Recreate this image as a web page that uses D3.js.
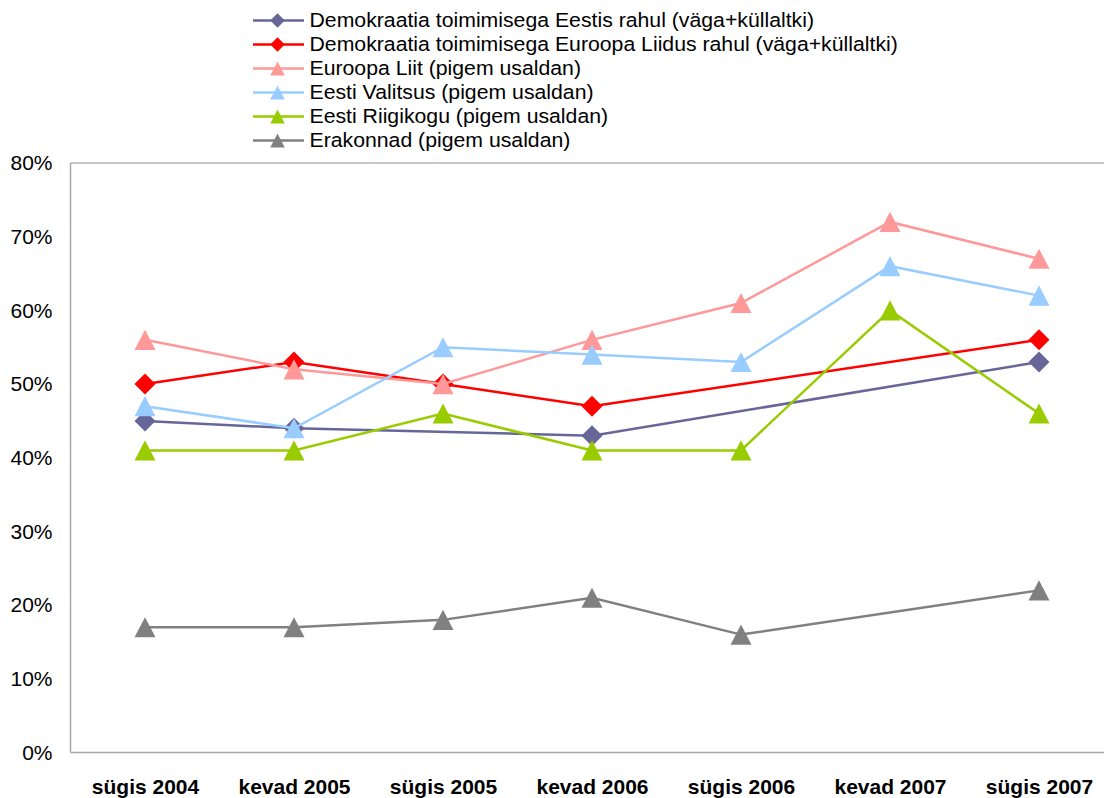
<!DOCTYPE html>
<html><head><meta charset="utf-8">
<script src="https://cdn.jsdelivr.net/npm/d3@7"></script>
<style>body{margin:0;background:#fff}svg{display:block}</style>
</head><body>
<svg id="c" width="1104" height="798"></svg>
<script>
const categories = ["sügis 2004","kevad 2005","sügis 2005","kevad 2006","sügis 2006","kevad 2007","sügis 2007"];
const yTicks = [0,10,20,30,40,50,60,70,80];
const seriesNames = [
  "Demokraatia toimimisega Eestis rahul (väga+küllaltki)",
  "Demokraatia toimimisega Euroopa Liidus rahul (väga+küllaltki)",
  "Euroopa Liit (pigem usaldan)",
  "Eesti Valitsus (pigem usaldan)",
  "Eesti Riigikogu (pigem usaldan)",
  "Erakonnad (pigem usaldan)"
];
const demEesti   = [45, 44, null, 43, null, null, 53];
const demEL      = [50, 53, 50, 47, null, null, 56];
const euroopaLiit= [56, 52, 50, 56, 61, 72, 67];
const valitsus   = [47, 44, 55, 54, 53, 66, 62];
const riigikogu  = [41, 41, 46, 41, 41, 60, 46];
const erakonnad  = [17, 17, 18, 21, 16, null, 22];
const seriesValues = [demEesti, demEL, euroopaLiit, valitsus, riigikogu, erakonnad];
const colors = ["#666699","#FF0000","#FF9999","#99CCFF","#99CC00","#808080"];
const shapes = ["diamond","diamond","triangle","triangle","triangle","triangle"];

const svg = d3.select("#c");
const L = 70.5, T = 163, B = 752.5, R = 1113.5;
const x = d3.scalePoint().domain(categories).range([L, R]).padding(0.5);
const y = d3.scaleLinear().domain([0, 80]).range([B, T]);
const font = "Arial, 'Liberation Sans', sans-serif";

// plot border
svg.append("line").attr("x1",L).attr("x2",R).attr("y1",T).attr("y2",T).attr("stroke","#C8C8C8").attr("stroke-width",2);
svg.append("line").attr("x1",L).attr("x2",L).attr("y1",T).attr("y2",B).attr("stroke","#A8A8A8").attr("stroke-width",1.5);
svg.append("line").attr("x1",L).attr("x2",R).attr("y1",B).attr("y2",B).attr("stroke","#A8A8A8").attr("stroke-width",1.5);

// y axis labels
const yAxis = d3.axisLeft(y).tickValues(yTicks).tickSize(0).tickPadding(18).tickFormat(d => d + "%");
const gy = svg.append("g").attr("transform", `translate(${L},0)`).call(yAxis);
gy.select(".domain").remove();
gy.selectAll("text").attr("font-family", font).attr("font-size", 21).attr("fill","#000");

// x axis labels
const xAxis = d3.axisBottom(x).tickSize(0).tickPadding(0);
const gx = svg.append("g").attr("transform", `translate(0,${B})`).call(xAxis);
gx.select(".domain").remove();
gx.selectAll("text").attr("font-family", font).attr("font-size", 21).attr("font-weight","bold").attr("fill","#000")
  .attr("dy", null).attr("y", 41.5);

function symPath(shape, s){
  if (shape === "diamond") { const h = s/2; return `M0,${-h}L${h},0L0,${h}L${-h},0Z`; }
  const w = s/2, h = s*0.48;
  return `M0,${-h}L${w},${h}L${-w},${h}Z`;
}
function marker(g, shape, cx, cy, color, s){
  g.append("path").attr("d", symPath(shape, s)).attr("fill", color)
   .attr("transform", `translate(${cx},${cy})`);
}

const line = d3.line().x(d => x(d.c)).y(d => y(d.v));
seriesValues.forEach((vals, i) => {
  const pts = vals.map((v, j) => ({c: categories[j], v})).filter(d => d.v !== null);
  const g = svg.append("g");
  g.append("path").attr("d", line(pts)).attr("fill","none").attr("stroke", colors[i]).attr("stroke-width", 2.5);
  pts.forEach(d => marker(g, shapes[i], x(d.c), y(d.v), colors[i], shapes[i]==="diamond" ? 21 : 21));
});

// legend
const lg = svg.append("g");
seriesNames.forEach((name, i) => {
  const yy = 20.5 + i * 24;
  lg.append("line").attr("x1",253).attr("x2",304).attr("y1",yy).attr("y2",yy).attr("stroke",colors[i]).attr("stroke-width",2.5);
  marker(lg, shapes[i], 277.5, yy, colors[i], 14.5);
  lg.append("text").attr("transform", `translate(309.5,${yy}) scale(1.09,1)`).attr("dy","0.35em")
    .attr("font-family",font).attr("font-size",19.5).attr("fill","#000").text(name);
});
</script>
</body></html>
